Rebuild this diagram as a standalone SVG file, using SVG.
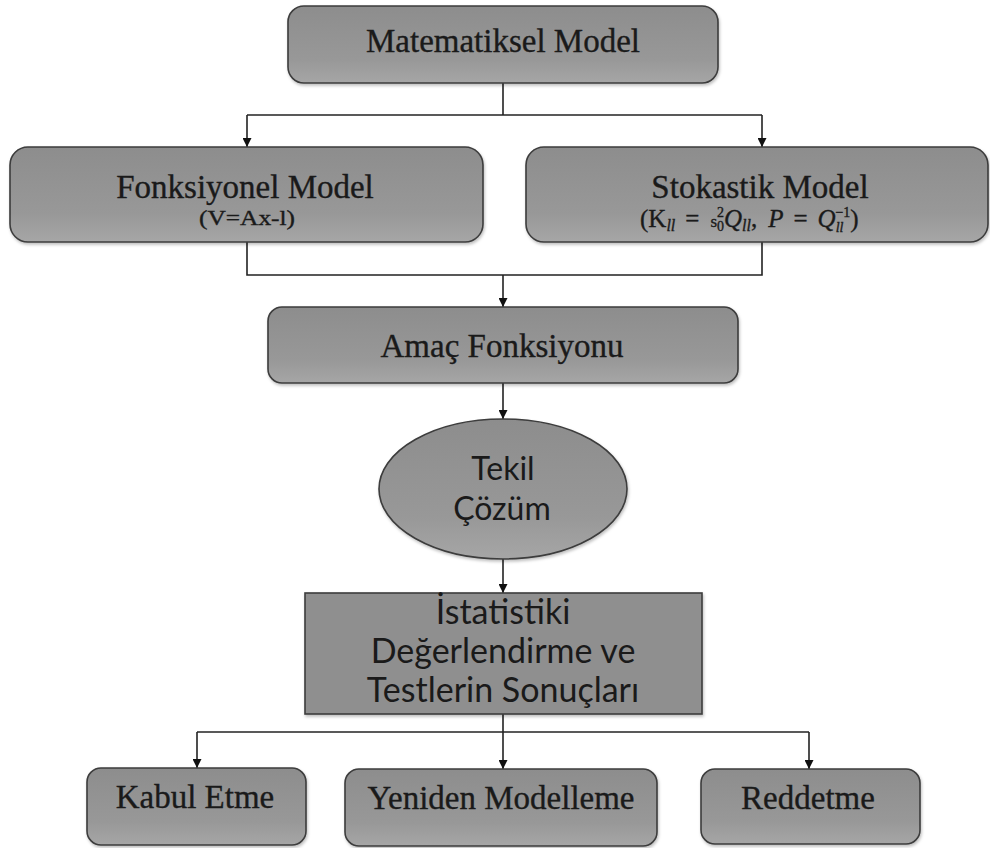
<svg xmlns="http://www.w3.org/2000/svg" width="990" height="848" viewBox="0 0 990 848">
<defs>
<linearGradient id="g" x1="0" y1="0" x2="0" y2="1">
<stop offset="0" stop-color="#8d8d8d"/>
<stop offset="0.7" stop-color="#989898"/>
<stop offset="1" stop-color="#a6a6a6"/>
</linearGradient>
<filter id="sh" x="-5%" y="-5%" width="110%" height="115%">
<feDropShadow dx="1" dy="2" stdDeviation="1.5" flood-color="#000" flood-opacity="0.25"/>
</filter>
<marker id="ar" viewBox="0 0 10 10" refX="10" refY="5" markerWidth="9" markerHeight="9" markerUnits="userSpaceOnUse" orient="auto">
<path d="M0,0 L10,5 L0,10 z" fill="#111"/>
</marker>
</defs>
<style>
.box{fill:url(#g);stroke:#3c3c3c;stroke-width:1.6;filter:url(#sh)}
.serif{font-family:"Liberation Serif","Times New Roman",serif;fill:#1a1a1a;stroke:#1a1a1a;stroke-width:0.35;text-anchor:middle}
.sans{font-family:Lato,"Liberation Sans",sans-serif;fill:#1a1a1a;text-anchor:middle}
.it{font-style:italic}
.ln{fill:none;stroke:#222;stroke-width:1.6}
.ar{marker-end:url(#ar)}
</style>
<rect width="990" height="848" fill="#fff"/>
<g id="connectors">
<path class="ln" d="M503,83 V115"/>
<path class="ln" d="M247,115 H762"/>
<path class="ln ar" d="M247,115 V147"/>
<path class="ln ar" d="M762,115 V147"/>
<path class="ln" d="M247,242 V275 H762 V242"/>
<path class="ln ar" d="M503,275 V307"/>
<path class="ln ar" d="M503,383 V419"/>
<path class="ln ar" d="M503,559 V593"/>
<path class="ln" d="M503,714 V732"/>
<path class="ln" d="M197,732 H809"/>
<path class="ln ar" d="M197,732 V768"/>
<path class="ln ar" d="M503,732 V769"/>
<path class="ln ar" d="M809,732 V769"/>
</g>
<g id="n-matematiksel">
<rect class="box" x="288" y="6" width="430" height="77" rx="16"/>
<text class="serif" x="503" y="52" font-size="33">Matematiksel Model</text>
</g>
<g id="n-fonksiyonel">
<rect class="box" x="10" y="147" width="473" height="95" rx="18"/>
<text class="serif" x="245" y="198" font-size="33">Fonksiyonel Model</text>
<text class="serif" x="247" y="225" font-size="20" textLength="96" lengthAdjust="spacingAndGlyphs">(V=Ax-l)</text>
</g>
<g id="n-stokastik">
<rect class="box" x="526" y="147" width="462" height="95" rx="18"/>
<text class="serif" x="760" y="198" font-size="33">Stokastik Model</text>
<text class="serif" x="640" y="227" font-size="25" style="text-anchor:start">(K<tspan class="it" font-size="16" dy="4">ll</tspan><tspan dx="10" dy="-4">=</tspan><tspan dx="11" font-size="17">s</tspan><tspan font-size="14" dy="4">0</tspan><tspan font-size="14" dx="-7" dy="-14">2</tspan><tspan class="it" dy="10">Q</tspan><tspan class="it" font-size="16" dy="4">ll</tspan><tspan dy="-4">,</tspan><tspan class="it" dx="11">P</tspan><tspan dx="10">=</tspan><tspan class="it" dx="10">Q</tspan><tspan class="it" font-size="14" dy="5">ll</tspan><tspan font-size="14" dx="-8" dy="-15">−1</tspan><tspan dy="10">)</tspan></text>
</g>
<g id="n-amac">
<rect class="box" x="268" y="307" width="470" height="76" rx="14"/>
<text class="serif" x="502" y="357" font-size="33">Amaç Fonksiyonu</text>
</g>
<g id="n-tekil">
<ellipse class="box" cx="503" cy="489" rx="124" ry="70"/>
<text class="sans" x="503" y="480" font-size="32">Tekil</text>
<text class="sans" x="502" y="520" font-size="32">Çözüm</text>
</g>
<g id="n-istatistiki">
<rect class="box" x="305" y="593" width="397" height="121" style="fill:#8f8f8f"/>
<text class="sans" x="503" y="624" font-size="34">İstatistiki</text>
<text class="sans" x="503" y="663" font-size="34">Değerlendirme ve</text>
<text class="sans" x="503" y="702" font-size="34">Testlerin Sonuçları</text>
</g>
<g id="n-kabul">
<rect class="box" x="87" y="768" width="219" height="77" rx="14"/>
<text class="serif" x="195" y="808" font-size="33">Kabul Etme</text>
</g>
<g id="n-yeniden">
<rect class="box" x="345" y="769" width="312" height="77" rx="14"/>
<text class="serif" x="501" y="809" font-size="33">Yeniden Modelleme</text>
</g>
<g id="n-reddetme">
<rect class="box" x="701" y="769" width="219" height="75" rx="14"/>
<text class="serif" x="808" y="809" font-size="33">Reddetme</text>
</g>
</svg>
